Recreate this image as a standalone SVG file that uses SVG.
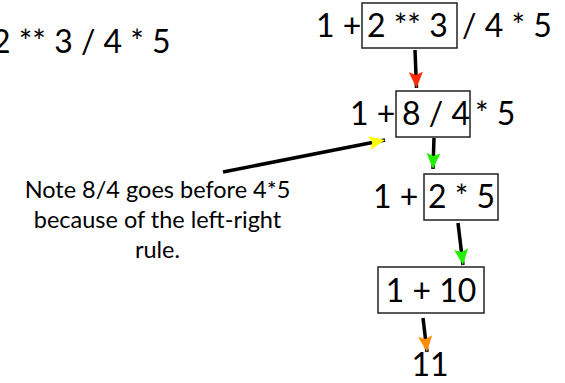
<svg xmlns="http://www.w3.org/2000/svg" width="565" height="383" viewBox="0 0 565 383">
<style>
.ex{font-family:Lato,"Open Sans","Liberation Sans",sans-serif;font-size:32px;fill:#000}
.nt{font-family:Lato,"Open Sans","Liberation Sans",sans-serif;font-size:23.5px;fill:#000;text-anchor:middle}
.bx{fill:none;stroke:#222;stroke-width:1.5}
.ar{stroke:#000;stroke-width:3.5;fill:none}
</style>
<defs>
<marker id="mr" markerUnits="userSpaceOnUse" markerWidth="16" markerHeight="14" refX="16" refY="7" orient="auto"><path d="M0,0 L16,7 L0,14 L3,7 z" fill="#ff2a00"/></marker>
<marker id="mg" markerUnits="userSpaceOnUse" markerWidth="16" markerHeight="14" refX="16" refY="7" orient="auto"><path d="M0,0 L16,7 L0,14 L3,7 z" fill="#22ee00"/></marker>
<marker id="my" markerUnits="userSpaceOnUse" markerWidth="16" markerHeight="14" refX="16" refY="7" orient="auto"><path d="M0,0 L16,7 L0,14 L3,7 z" fill="#ffff00"/></marker>
<marker id="mo" markerUnits="userSpaceOnUse" markerWidth="16" markerHeight="14" refX="16" refY="7" orient="auto"><path d="M0,0 L16,7 L0,14 L3,7 z" fill="#ff8c00"/></marker>
</defs>
<g id="expr0"><text class="ex" x="-8" y="53">2 ** 3 / 4 * 5</text></g>
<g id="step1"><text class="ex" x="316" y="37">1 +</text><rect class="bx" x="362" y="3" width="95" height="45"/><text class="ex" x="367" y="37">2 ** 3</text><text class="ex" x="462" y="37">/ 4 * 5</text></g>
<g id="step2"><text class="ex" x="350" y="125">1 +</text><rect class="bx" x="396" y="91" width="74" height="46"/><text class="ex" x="402" y="125">8 / 4</text><text class="ex" x="475" y="125">* 5</text></g>
<g id="step3"><text class="ex" x="373" y="208">1 +</text><rect class="bx" x="424" y="174" width="74" height="46"/><text class="ex" x="428" y="208">2 * 5</text></g>
<g id="step4"><rect class="bx" x="378" y="267" width="106" height="46"/><text class="ex" x="431" y="302" text-anchor="middle">1 + 10</text></g>
<g id="result"><text class="ex" x="430" y="376" text-anchor="middle">11</text></g>
<g id="note"><text class="nt" x="157.5" y="198">Note 8/4 goes before 4*5</text><text class="nt" x="157.5" y="228">because of the left-right</text><text class="nt" x="157.5" y="258">rule.</text></g>
<g id="connectors">
<line class="ar" x1="415" y1="50" x2="416.5" y2="88" marker-end="url(#mr)"/>
<line class="ar" x1="434" y1="138" x2="433" y2="169" marker-end="url(#mg)"/>
<line class="ar" x1="458" y1="223" x2="463" y2="265" marker-end="url(#mg)"/>
<line class="ar" x1="423" y1="318" x2="427" y2="352" marker-end="url(#mo)"/>
<line class="ar" x1="223" y1="172" x2="385" y2="140" marker-end="url(#my)"/>
</g>
</svg>
